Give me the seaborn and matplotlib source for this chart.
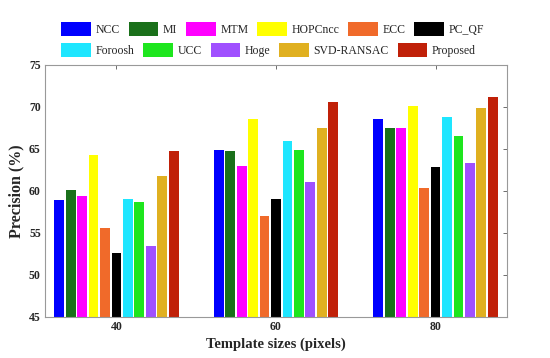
import pandas as pd
import matplotlib.pyplot as plt
import matplotlib.patches as mpatches
import seaborn as sns

# --- Data ---
sizes = ["40", "60", "80"]
methods = ["NCC", "MI", "MTM", "HOPCncc", "ECC", "PC_QF",
           "Foroosh", "UCC", "Hoge", "SVD-RANSAC", "Proposed"]
colors = ["#0000ff", "#1a701a", "#ff00ff", "#ffff00", "#f06a2a", "#000000",
          "#1ee6ff", "#1ee61e", "#a050ff", "#e0b020", "#c02008"]

precision_40 = [58.9, 60.1, 59.4, 64.2, 55.6, 52.6, 59.0, 58.6, 53.4, 61.7, 64.7]
precision_60 = [64.9, 64.7, 62.9, 68.5, 57.0, 59.0, 65.9, 64.9, 61.0, 67.5, 70.5]
precision_80 = [68.5, 67.5, 67.5, 70.1, 60.3, 62.8, 68.8, 66.5, 63.3, 69.8, 71.1]

df = pd.DataFrame({
    "size": [s for s in sizes for _ in methods],
    "method": methods * 3,
    "precision": precision_40 + precision_60 + precision_80,
})

# --- Plot ---
sns.set_theme(style="white")
plt.rcParams["font.family"] = ["Liberation Serif", "DejaVu Serif"]

fig = plt.figure(figsize=(5.5, 3.58), dpi=100)
ax = fig.add_axes([0.0818, 0.1154, 0.84, 0.7039])

sns.barplot(data=df, x="size", y="precision", hue="method", hue_order=methods,
            palette=colors, saturation=1, width=0.79, gap=0.14,
            linewidth=0, legend=False, ax=ax)

ax.set_ylim(45, 75)
ax.set_xlim(-0.448, 2.448)
ax.set_yticks(range(45, 76, 5))
ax.set_xlabel("Template sizes (pixels)", fontsize=10.5, fontweight="bold", labelpad=3)
ax.set_ylabel("Precision (%)", fontsize=11.5, fontweight="bold", labelpad=3)
ax.tick_params(direction="in", length=3, width=0.6, color="#555555",
               top=True, right=True, labelsize=8.5, pad=3)
for lab in ax.get_xticklabels() + ax.get_yticklabels():
    lab.set_fontweight("bold")
for sp in ax.spines.values():
    sp.set_color("#999999")
    sp.set_linewidth(0.8)

# two legend rows, as in the original (columns not aligned across rows)
handles = [mpatches.Patch(facecolor=c, edgecolor="none") for c in colors]
leg_kw = dict(frameon=False, fontsize=8.5, handlelength=2.5, handleheight=1.4,
              handletextpad=0.4, columnspacing=0.75, borderpad=0)
fig.legend(handles[:6], methods[:6], ncol=6, loc="center left",
           bbox_to_anchor=(0.101, 0.919), **leg_kw)
fig.legend(handles[6:], methods[6:], ncol=5, loc="center left",
           bbox_to_anchor=(0.101, 0.860), **leg_kw)

fig.savefig("out.png", dpi=100)
